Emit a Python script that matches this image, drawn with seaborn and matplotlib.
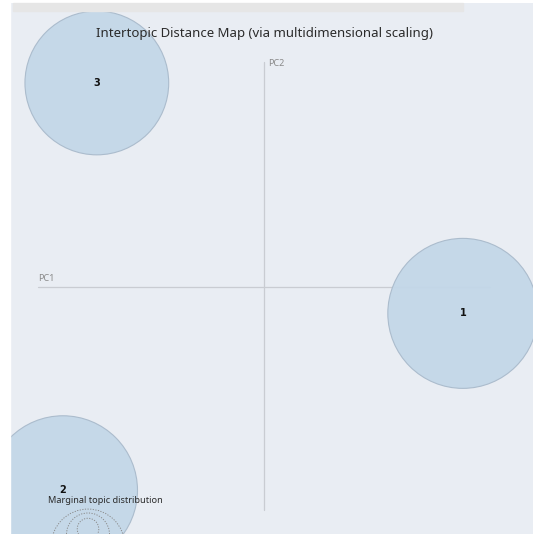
"""Intertopic Distance Map (LDAvis style) recreated with seaborn/matplotlib."""

import matplotlib

matplotlib.use("Agg")
import matplotlib.pyplot as plt
import pandas as pd
import seaborn as sns
from matplotlib.patches import Circle, Rectangle

sns.set_theme(style="white")
plt.rcParams["font.family"] = ["Noto Sans", "DejaVu Sans"]

# --- data: topic coordinates on the two principal components + marginal freq (%)
topics = ["1", "2", "3"]
pc1 = [0.264, -0.267, -0.222]
pc2 = [-0.035, -0.270, 0.271]
freq = [34.4, 34.0, 31.6]

# marginal topic distribution legend circles (radius / centre in PC units)
legend_r = [0.0491, 0.0286, 0.0143]
legend_cy = [-0.344, -0.3287, -0.3214]
legend_cx = -0.2337

BG = "#e9edf3"
FILL = "#c3d7e8"
EDGE = "#a9bacb"

df = pd.DataFrame({"topic": topics, "PC1": pc1, "PC2": pc2, "freq": freq})
df["s"] = df["freq"] * 339.0  # marker area in pt^2, proportional to freq

fig = plt.figure(figsize=(5.33, 5.34), dpi=100)
fig.patch.set_facecolor("white")
ax = fig.add_axes([10 / 533, 0, 523 / 533, 531 / 534])
ax.set_facecolor(BG)
for sp in ax.spines.values():
    sp.set_visible(False)
ax.set_xticks([]); ax.set_yticks([])
ax.set_xlim(-0.3373, 0.3572)
ax.set_ylim(-0.328, 0.3772)

# axes lines
ax.plot([-0.3, 0.3], [0, 0], color="#c9ccd2", lw=0.9, zorder=1)
ax.plot([0, 0], [-0.296, 0.299], color="#c9ccd2", lw=0.9, zorder=1)
ax.text(-0.3, 0.006, "PC1", fontsize=6.5, color="#8a8a8a", ha="left", va="bottom")
ax.text(0.005, 0.297, "PC2", fontsize=6.5, color="#8a8a8a", ha="left", va="center")

sns.scatterplot(data=df, x="PC1", y="PC2", s=df["s"], color=FILL,
                edgecolor=EDGE, linewidth=0.8, alpha=0.95, legend=False,
                ax=ax, zorder=2)
for coll in ax.collections:
    coll.set_clip_on(True)
    coll.set_clip_box(ax.bbox)
ax.set_xlabel(""); ax.set_ylabel("")
for _, r in df.iterrows():
    ax.text(r["PC1"], r["PC2"], r["topic"], fontsize=7,
            fontweight="bold", family="DejaVu Sans", color="#111111",
            ha="center", va="center", zorder=4)

# marginal distribution legend
for rr, cy in zip(legend_r, legend_cy):
    ax.add_patch(Circle((legend_cx, cy), rr, fill=False, ls=(0, (1.2, 1.5)),
                        ec="#8a8a8a", lw=0.7, zorder=3))
ax.text(-0.287, -0.284, "Marginal topic distribution", fontsize=6.6,
        color="#2b2b2b", ha="left", va="center", zorder=4)

fig.text(264 / 533, 1 - 33 / 534,
         "Intertopic Distance Map (via multidimensional scaling)",
         fontsize=9.5, color="#2b2b2b", ha="center", va="center")

# white page margin left of the panel, and the top gray bar
fig.patches.append(Rectangle((0, 0), 10 / 533, 1, transform=fig.transFigure,
                             color="white", zorder=5))
fig.patches.append(Rectangle((13 / 533, 1 - 11 / 534), 450 / 533, 8 / 534,
                             transform=fig.transFigure, color="#e6e6e6",
                             zorder=5))

fig.savefig("out.png", dpi=100)
